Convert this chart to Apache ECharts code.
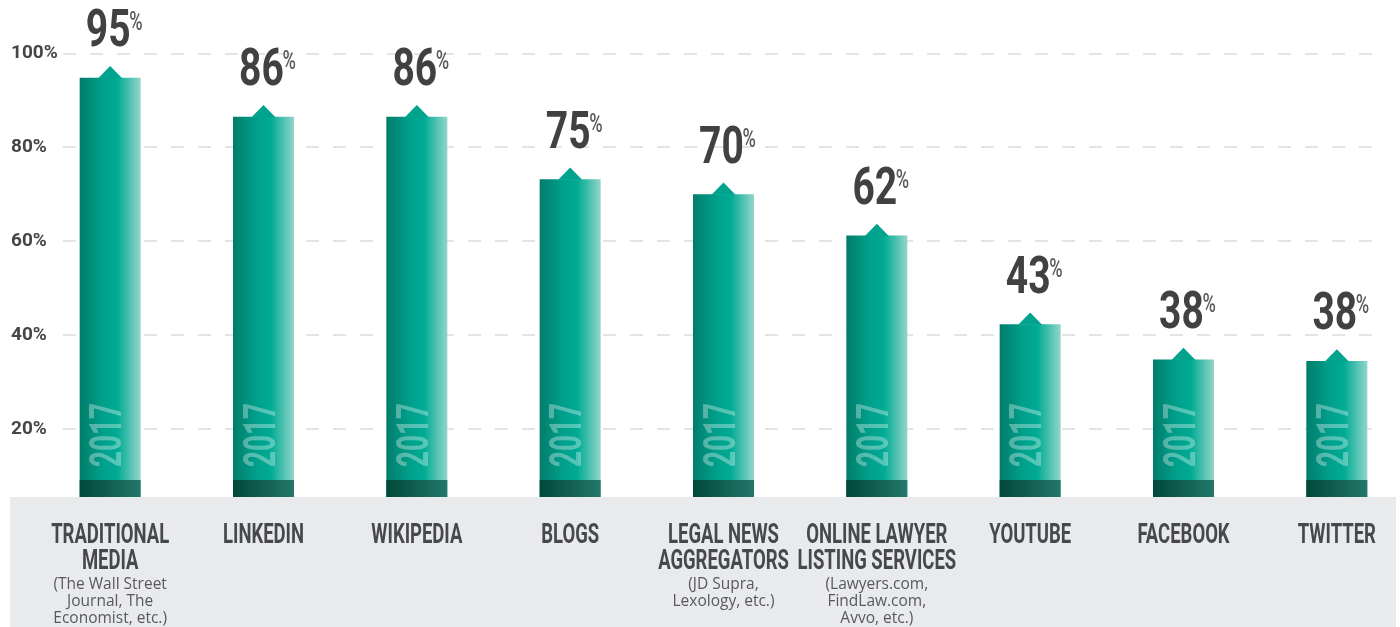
<!DOCTYPE html>
<html>
<head>
<meta charset="utf-8">
<script src="https://cdn.jsdelivr.net/npm/echarts@6/dist/echarts.min.js"></script>
<style>
  html, body { margin: 0; padding: 0; background: #fff; }
  #chart { width: 1400px; height: 627px; }
</style>
</head>
<body>
<div id="chart"></div>
<script>
// category titles (upper line / lower line) and the small notes under them
const categories = ['TRADITIONAL\nMEDIA', 'LINKEDIN', 'WIKIPEDIA', 'BLOGS', 'LEGAL NEWS\nAGGREGATORS',
  'ONLINE LAWYER\nLISTING SERVICES', 'YOUTUBE', 'FACEBOOK', 'TWITTER'];
const notes = ['(The Wall Street\nJournal, The\nEconomist, etc.)', '', '', '', '(JD Supra,\nLexology, etc.)',
  '(Lawyers.com,\nFindLaw.com,\nAvvo, etc.)', '', '', ''];
// printed percentages
const shares = [95, 86, 86, 75, 70, 62, 43, 38, 38];
// bar heights as drawn in the picture (slightly off the printed values)
const barHeights = [94.8, 86.5, 86.5, 73.2, 70, 61.2, 42.3, 34.8, 34.5];
const yearTag = '2017';

const BAND_Y = 497;      // top of the grey label strip
const BAR_W = 61;
const TXT = '#404143';

const chart = echarts.init(document.getElementById('chart'));

const barFill = new echarts.graphic.LinearGradient(0, 0, 1, 0, [
  { offset: 0, color: '#007d6b' },
  { offset: 0.38, color: '#00a08b' },
  { offset: 0.62, color: '#00ab94' },
  { offset: 1, color: '#93d5ca' }
]);
const footFill = new echarts.graphic.LinearGradient(0, 0, 1, 0, [
  { offset: 0, color: '#00483a' },
  { offset: 1, color: '#237869' }
]);

function renderBar(params, api) {
  const i = api.value(0);
  const pt = api.coord([i, api.value(1)]);
  const cx = pt[0], ty = pt[1];
  const kids = [
    { type: 'rect', shape: { x: cx - BAR_W / 2, y: ty, width: BAR_W, height: BAND_Y - ty }, style: { fill: barFill } },
    { type: 'polygon', shape: { points: [[cx - 12, ty + 0.5], [cx, ty - 11.7], [cx + 12, ty + 0.5]] }, style: { fill: '#00a38d' } },
    { type: 'rect', shape: { x: cx - BAR_W / 2, y: BAND_Y - 17, width: BAR_W, height: 17 }, style: { fill: footFill } },
    { type: 'text', x: cx, y: BAND_Y - 62, rotation: Math.PI / 2, scaleX: 0.62,
      style: { text: yearTag, fill: 'rgba(255,255,255,0.33)', font: 'bold 45px Roboto', align: 'center', verticalAlign: 'middle' } },
    { type: 'text', x: cx - 2, y: ty - 44.5, scaleX: 0.75,
      style: { text: String(api.value(2)), fill: TXT, font: 'bold 52px Roboto', align: 'center', verticalAlign: 'middle' } },
    { type: 'text', x: cx - 2 + 21, y: ty - 54, scaleX: 0.7,
      style: { text: '%', fill: '#58595b', font: '500 26px Roboto', align: 'left', verticalAlign: 'middle' } }
  ];
  const lines = categories[i].split('\n');
  lines.forEach(function (ln, k) {
    kids.push({ type: 'text', x: cx, y: 536 + k * 26, scaleX: 0.66,
      style: { text: ln, fill: '#47484a', font: 'bold 28px Roboto', align: 'center', verticalAlign: 'middle' } });
  });
  if (notes[i]) {
    kids.push({ type: 'text', x: cx, y: 576,
      style: { text: notes[i], fill: '#58595b', font: '15.5px "Open Sans"', lineHeight: 17, align: 'center', verticalAlign: 'top' } });
  }
  return { type: 'group', children: kids };
}

chart.setOption({
  animation: false,
  graphic: [
    { type: 'rect', z: 1, shape: { x: 10, y: BAND_Y, width: 1386, height: 627 - BAND_Y }, style: { fill: '#e9eaec' } }
  ],
  grid: [
    { left: 33.5, width: 1380, top: 53.3, bottom: 104.1, outerBoundsMode: 'none' },
    { left: 63, right: 19, top: 53.3, bottom: 104.1, outerBoundsMode: 'none' }
  ],
  xAxis: [
    { type: 'category', gridIndex: 0, data: categories, show: false },
    { type: 'value', gridIndex: 1, min: 0, max: 1, show: false }
  ],
  yAxis: [
    { type: 'value', gridIndex: 0, min: 0, max: 100, interval: 20, show: false },
    {
      type: 'value', gridIndex: 1, min: 0, max: 100, interval: 20,
      axisLine: { show: false }, axisTick: { show: false },
      splitLine: { showMinLine: false, lineStyle: { color: '#e4e4e4', width: 2, type: [13, 14] } },
      axisLabel: {
        showMinLabel: false, formatter: '{value}%', align: 'left', margin: 52,
        color: '#454648', fontFamily: 'Roboto', fontWeight: 'bold', fontSize: 19
      }
    }
  ],
  series: [
    {
      type: 'custom',
      xAxisIndex: 0, yAxisIndex: 0,
      z: 3,
      clip: false,
      renderItem: renderBar,
      data: categories.map(function (c, i) { return [i, barHeights[i], shares[i]]; })
    }
  ]
});
</script>
</body>
</html>
